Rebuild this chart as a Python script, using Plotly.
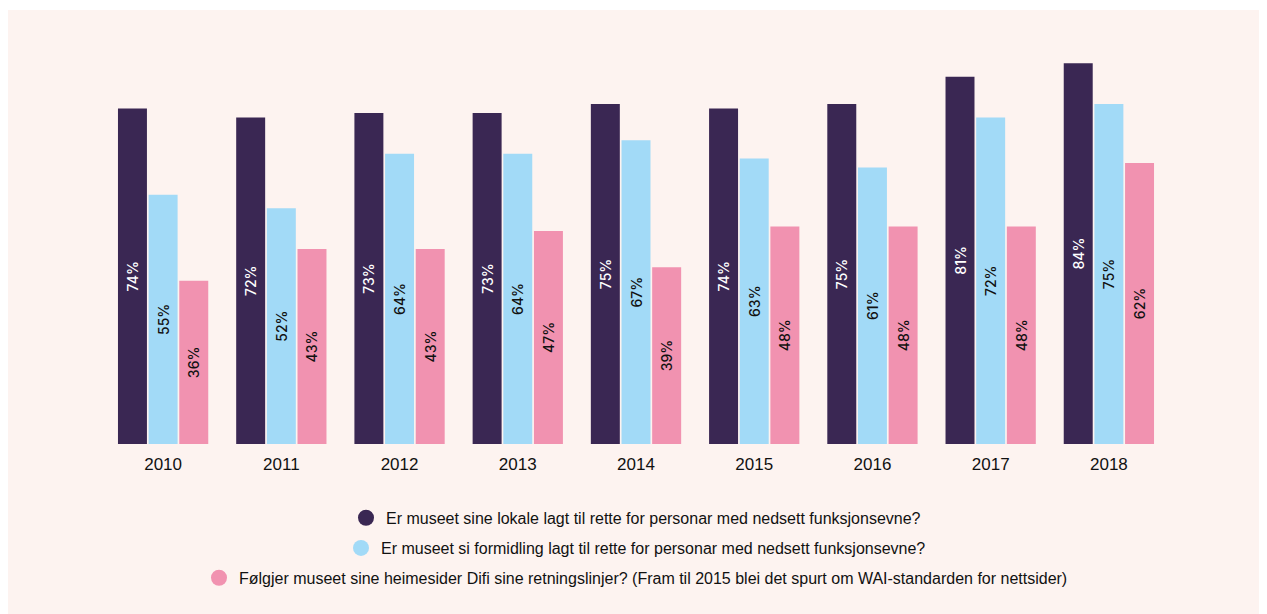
import plotly.graph_objects as go

aar = ["2010", "2011", "2012", "2013", "2014", "2015", "2016", "2017", "2018"]
lokale = [74, 72, 73, 73, 75, 74, 75, 81, 84]
formidling = [55, 52, 64, 64, 67, 63, 61, 72, 75]
nettsider = [36, 43, 43, 47, 39, 48, 48, 48, 62]

serier = [
    ("Er museet sine lokale lagt til rette for personar med nedsett funksjonsevne?", lokale, "#3A2753", "white"),
    ("Er museet si formidling lagt til rette for personar med nedsett funksjonsevne?", formidling, "#A2DAF7", "#111111"),
    ("Følgjer museet sine heimesider Difi sine retningslinjer? (Fram til 2015 blei det spurt om WAI-standarden for nettsider)", nettsider, "#F192B0", "#111111"),
]

fig = go.Figure()
for i, (namn, verdiar, farge, tekstfarge) in enumerate(serier):
    fig.add_trace(go.Bar(
        x=aar, y=verdiar, name=namn, marker_color=farge, marker_line_width=0,
        text=[f"{v}%" for v in verdiar], textposition="inside", textangle=-90,
        insidetextanchor="middle", showlegend=False,
        textfont=dict(family="Inter", size=14, weight=500, color=tekstfarge),
    ))
    leg = "legend" if i == 0 else f"legend{i + 1}"
    fig.add_trace(go.Scatter(
        x=[None], y=[None], mode="markers", name=namn, legend=leg,
        marker=dict(symbol="circle", size=16, color=farge),
    ))

leg_stil = dict(x=0.5, xanchor="center", yanchor="middle", bgcolor="rgba(0,0,0,0)",
                itemwidth=30,
                font=dict(family="Liberation Sans", size=16, color="#111111"))

# siden har 8px marg rundt figuren, derfor litt mindre storleik
fig.update_layout(
    width=1259, height=606,
    margin=dict(l=96, r=99, t=28, b=170),
    paper_bgcolor="white", plot_bgcolor="rgba(0,0,0,0)",
    barmode="group", bargap=0.222, bargroupgap=0.055,
    font=dict(family="Liberation Sans", color="#111111"),
    xaxis=dict(showgrid=False, showline=False, ticks="outside", ticklen=5,
               tickcolor="rgba(0,0,0,0)", tickfont=dict(size=17)),
    yaxis=dict(range=[0, 90], visible=False),
    legend=dict(y=-0.181, **leg_stil),
    legend2=dict(y=-0.255, **leg_stil),
    legend3=dict(y=-0.328, **leg_stil),
    shapes=[dict(type="rect", xref="paper", yref="paper", x0=-0.0902, x1=1.1,
                 y0=-0.45, y1=1.0637, fillcolor="#FDF3F0", line_width=0, layer="below")],
)

fig.write_html("out.html")
